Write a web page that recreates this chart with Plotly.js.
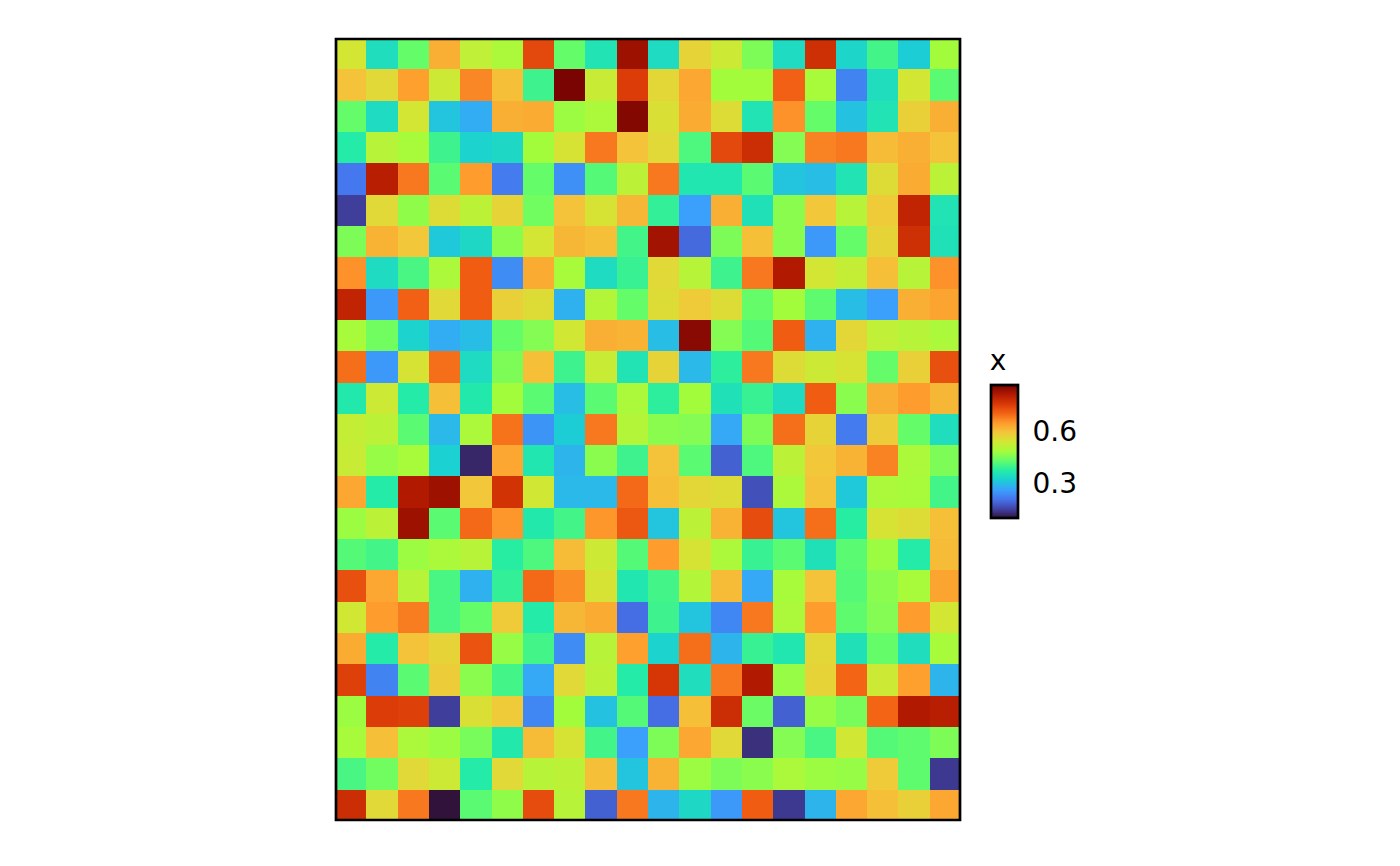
<!DOCTYPE html>
<html><head><meta charset="utf-8">
<script src="https://cdn.plot.ly/plotly-3.0.1.min.js"></script>
<style>html,body{margin:0;padding:0;background:#fff}#c{width:1400px;height:866px}</style>
</head><body><div id="c"></div>
<script>
const row01=[.54,.345,.43,.62,.515,.49,.735,.43,.355,.83,.34,.57,.53,.45,.34,.77,.33,.40,.315,.48];
const row02=[.595,.56,.64,.53,.665,.60,.395,.865,.525,.75,.565,.63,.48,.48,.705,.485,.225,.345,.54,.42];
const row03=[.43,.34,.54,.305,.275,.62,.625,.475,.49,.855,.55,.625,.555,.355,.655,.43,.30,.355,.575,.62];
const row04=[.37,.505,.485,.395,.325,.335,.48,.545,.68,.595,.56,.41,.735,.775,.455,.67,.68,.605,.62,.595];
const row05=[.21,.80,.68,.42,.645,.215,.43,.24,.415,.51,.68,.36,.36,.42,.305,.295,.355,.555,.625,.51];
const row06=[.145,.56,.465,.555,.51,.57,.44,.595,.545,.61,.385,.26,.62,.35,.46,.59,.505,.585,.79,.355];
const row07=[.45,.615,.59,.31,.335,.46,.54,.61,.60,.40,.825,.195,.45,.60,.46,.25,.43,.57,.77,.35];
const row08=[.655,.34,.405,.49,.71,.235,.625,.485,.34,.39,.56,.505,.395,.68,.81,.54,.52,.60,.505,.655];
const row09=[.79,.25,.705,.56,.71,.575,.555,.28,.50,.43,.555,.585,.555,.43,.48,.425,.295,.26,.62,.635];
const row10=[.485,.44,.325,.275,.295,.43,.455,.535,.62,.615,.295,.85,.455,.415,.71,.28,.565,.515,.505,.49];
const row11=[.69,.25,.545,.69,.34,.45,.60,.395,.525,.355,.57,.29,.38,.68,.555,.53,.545,.43,.575,.725];
const row12=[.365,.53,.37,.60,.365,.48,.42,.295,.42,.49,.38,.48,.35,.39,.34,.71,.46,.62,.645,.61];
const row13=[.52,.51,.42,.29,.49,.685,.245,.315,.68,.50,.46,.455,.27,.45,.69,.57,.215,.58,.43,.345];
const row14=[.525,.47,.485,.32,.12,.63,.36,.285,.46,.395,.595,.42,.185,.41,.51,.59,.615,.67,.49,.45];
const row15=[.63,.37,.81,.83,.59,.765,.535,.29,.29,.695,.60,.565,.555,.165,.49,.595,.31,.49,.485,.40];
const row16=[.475,.51,.83,.42,.695,.65,.365,.40,.65,.715,.305,.51,.615,.73,.305,.69,.375,.545,.555,.60];
const row17=[.415,.40,.475,.49,.505,.375,.41,.605,.53,.415,.645,.545,.49,.39,.42,.35,.42,.475,.37,.605];
const row18=[.725,.63,.505,.405,.28,.385,.695,.66,.545,.36,.40,.50,.605,.27,.485,.595,.415,.46,.485,.635];
const row19=[.535,.645,.675,.405,.43,.585,.37,.61,.625,.20,.395,.305,.23,.68,.49,.645,.425,.455,.645,.54];
const row20=[.625,.37,.595,.57,.72,.47,.40,.235,.505,.64,.325,.69,.285,.39,.36,.565,.35,.43,.345,.485];
const row21=[.745,.225,.42,.58,.46,.40,.27,.56,.51,.37,.76,.345,.68,.81,.47,.57,.70,.53,.64,.285];
const row22=[.475,.75,.745,.145,.55,.585,.23,.48,.30,.415,.20,.60,.775,.435,.185,.47,.445,.70,.81,.80];
const row23=[.485,.60,.49,.475,.445,.365,.605,.545,.40,.26,.45,.63,.56,.13,.455,.405,.535,.415,.425,.45];
const row24=[.405,.44,.56,.53,.37,.56,.505,.51,.60,.305,.615,.475,.45,.46,.49,.475,.47,.585,.425,.14];
const row25=[.775,.56,.68,.098,.42,.465,.73,.505,.185,.68,.285,.335,.25,.71,.14,.285,.63,.60,.575,.63];
const rows=[row01,row02,row03,row04,row05,row06,row07,row08,row09,row10,row11,row12,row13,row14,row15,row16,row17,row18,row19,row20,row21,row22,row23,row24,row25];
const tickValues=[0.3,0.6];
const tickLabels=['0.3','0.6'];
const legendTitle='x';
const zMin=0.098,zMax=0.865;
const turbo=["#30123b","#4145ab","#4675ed","#39a2fc","#1bcfd4","#24eca6","#61fc6c","#a4fc3b","#d1e834","#f3c63a","#fe9b2d","#f36315","#d93806","#b11901","#7a0402"];
const colorscale=turbo.map((c,i)=>[i/(turbo.length-1),c]);
const font={family:'"DejaVu Sans",sans-serif',color:'#000',size:28};
const L=335,R=961,T=38,B=821,W=1400,H=866;
const barL=991,barR=1018,barT=385,barB=518;
const px=x=>(x-L)/(R-L), py=y=>(B-y)/(B-T);
const tickY=v=>barB-(v-zMin)/(zMax-zMin)*(barB-barT);
const tickShapes=[];
tickValues.forEach(v=>{
  [[barL,barL+5.5],[barR-5.5,barR]].forEach(([a,b])=>tickShapes.push({
    type:'line',xref:'paper',yref:'paper',x0:px(a),x1:px(b),y0:py(tickY(v)),y1:py(tickY(v)),
    line:{color:'#222',width:1}}));
});
const frame={type:'rect',xref:'paper',yref:'paper',x0:px(L+1),x1:px(R-1),y0:py(B-1),y1:py(T+1),line:{color:'#000',width:2.7},fillcolor:'rgba(0,0,0,0)'};
Plotly.newPlot('c',[{
  type:'heatmap',z:rows,colorscale,zmin:zMin,zmax:zMax,xgap:0,ygap:0,
  colorbar:{
    title:{text:legendTitle,side:'top',font},
    tickvals:tickValues,ticktext:tickLabels,tickfont:font,
    ticks:'outside',ticklen:8,tickwidth:1,tickcolor:'rgba(0,0,0,0)',
    lenmode:'pixels',len:171,thicknessmode:'pixels',thickness:barR-barL,
    x:px(barL),xanchor:'left',xpad:0,
    y:py(barB),yanchor:'bottom',ypad:0,
    outlinewidth:2.7,outlinecolor:'#000',borderwidth:0,ticklabelposition:'outside'
  }
}],{
  width:W,height:H,paper_bgcolor:'#fff',plot_bgcolor:'#fff',
  margin:{l:L,r:W-R,t:T,b:H-B,pad:0},
  xaxis:{showticklabels:false,ticks:'',showgrid:false,zeroline:false,showline:false,range:[-0.5,19.5]},
  yaxis:{showticklabels:false,ticks:'',showgrid:false,zeroline:false,showline:false,range:[24.5,-0.5]},
  shapes:[frame,...tickShapes],
  font
},{displayModeBar:false});
</script></body></html>
